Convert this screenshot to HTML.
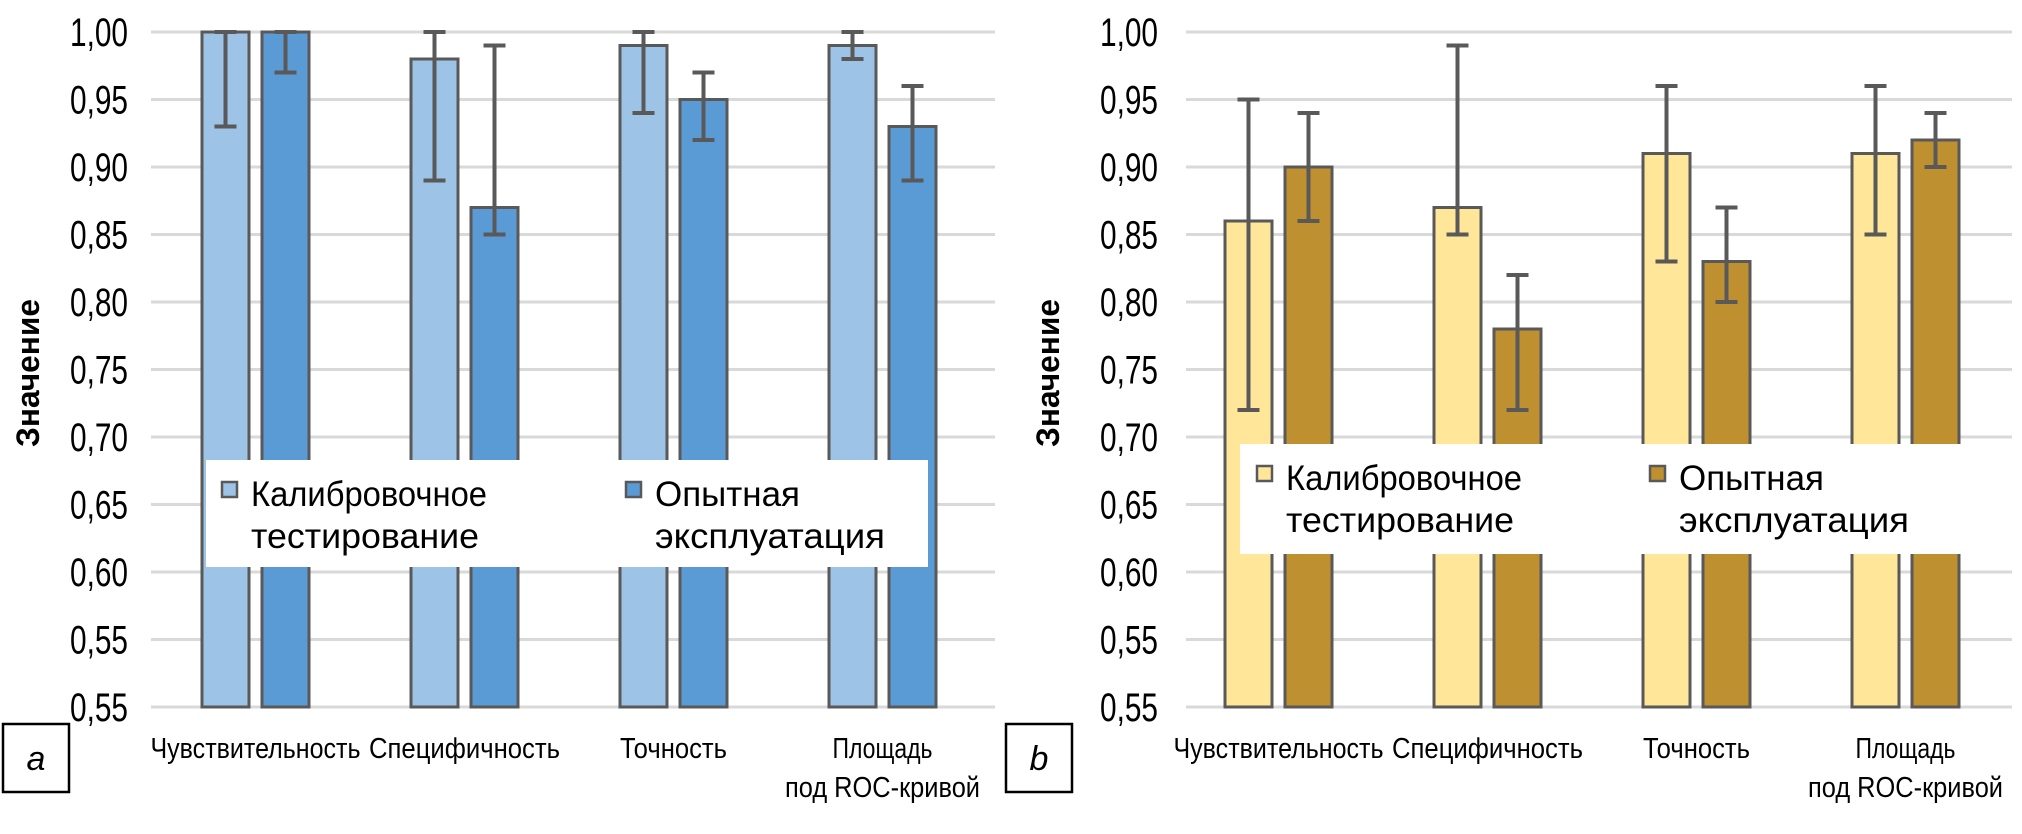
<!DOCTYPE html>
<html><head><meta charset="utf-8"><style>
html,body{margin:0;padding:0;background:#fff;}
svg{display:block;font-family:"Liberation Sans",sans-serif;}
</style></head><body>
<svg id="s" width="2022" height="834" viewBox="0 0 2022 834" xmlns="http://www.w3.org/2000/svg"></svg>
<script>
var s=document.getElementById('s'),h='';
function Y(v){return 32+(1-v)*1350;}
var labels=['1,00','0,95','0,90','0,85','0,80','0,75','0,70','0,65','0,60','0,55','0,55'];
function chart(gx0,gx1,bx,labR,titleX,c1,c2,d,letter,boxX,leg){
  for(var i=0;i<11;i++){var y=32+i*67.5;
    h+='<line x1="'+gx0+'" x2="'+gx1+'" y1="'+y+'" y2="'+y+'" stroke="#d9d9d9" stroke-width="3"/>';
    h+='<text x="'+labR+'" y="'+(y+14)+'" font-size="40" text-anchor="end" textLength="58" lengthAdjust="spacingAndGlyphs">'+labels[i]+'</text>';}
  for(var k=0;k<4;k++){var x=bx+k*209;
    [[x,c1,d[k][0]],[x+60,c2,d[k][1]]].forEach(function(b){
      var t=Y(b[2][0]);
      h+='<rect x="'+b[0]+'" y="'+t+'" width="47" height="'+(707-t)+'" fill="'+b[1]+'" stroke="#595959" stroke-width="3"/>';
      var cx=b[0]+23.5,lo=Y(b[2][1]),hi=Y(b[2][2]);
      h+='<line x1="'+cx+'" x2="'+cx+'" y1="'+hi+'" y2="'+lo+'" stroke="#595959" stroke-width="4"/>';
      h+='<line x1="'+(cx-11)+'" x2="'+(cx+11)+'" y1="'+hi+'" y2="'+hi+'" stroke="#595959" stroke-width="4"/>';
      h+='<line x1="'+(cx-11)+'" x2="'+(cx+11)+'" y1="'+lo+'" y2="'+lo+'" stroke="#595959" stroke-width="4"/>';
    });}
  var cats=[['Чувствительность',210],['Специфичность',191],['Точность',107]];
  for(var k=0;k<3;k++){var c=bx+53.5+k*209;
    h+='<text x="'+c+'" y="758" font-size="29" text-anchor="middle" textLength="'+cats[k][1]+'" lengthAdjust="spacingAndGlyphs">'+cats[k][0]+'</text>';}
  var c=bx+53.5+3*209;
  h+='<text x="'+c+'" y="758" font-size="29" text-anchor="middle" textLength="100" lengthAdjust="spacingAndGlyphs">Площадь</text>';
  h+='<text x="'+c+'" y="797" font-size="29" text-anchor="middle" textLength="195" lengthAdjust="spacingAndGlyphs">под ROC-кривой</text>';
  h+='<text transform="translate('+(titleX)+',373) rotate(-90)" font-size="32" font-weight="bold" text-anchor="middle" textLength="148" lengthAdjust="spacingAndGlyphs">Значение</text>';
  h+='<rect x="'+boxX+'" y="724" width="66" height="68" fill="#fff" stroke="#000" stroke-width="2.5"/>';
  h+='<text x="'+(boxX+33)+'" y="770" font-size="34" font-style="italic" text-anchor="middle">'+letter+'</text>';
  h+='<rect x="'+leg[0]+'" y="'+leg[1]+'" width="'+leg[2]+'" height="'+leg[3]+'" fill="#fff"/>';
  var ly1=leg[1]+46,ly2=leg[1]+88;
  [[leg[4],c1,'Калибровочное','тестирование',236,228],[leg[5],c2,'Опытная','эксплуатация',145,230]].forEach(function(e){
    h+='<rect x="'+e[0]+'" y="'+(ly1-24)+'" width="15" height="15" fill="'+e[1]+'" stroke="#595959" stroke-width="2.5"/>';
    h+='<text x="'+(e[0]+29)+'" y="'+ly1+'" font-size="35" textLength="'+e[4]+'" lengthAdjust="spacingAndGlyphs">'+e[2]+'</text>';
    h+='<text x="'+(e[0]+29)+'" y="'+ly2+'" font-size="35" textLength="'+e[5]+'" lengthAdjust="spacingAndGlyphs">'+e[3]+'</text>';
  });
}
var dL=[[[1,0.93,1],[1,0.97,1]],[[0.98,0.89,1],[0.87,0.85,0.99]],[[0.99,0.94,1],[0.95,0.92,0.97]],[[0.99,0.98,1],[0.93,0.89,0.96]]];
var dR=[[[0.86,0.72,0.95],[0.90,0.86,0.94]],[[0.87,0.85,0.99],[0.78,0.72,0.82]],[[0.91,0.83,0.96],[0.83,0.80,0.87]],[[0.91,0.85,0.96],[0.92,0.90,0.94]]];
chart(151,995,202,128,39,'#9DC3E6','#5B9BD5',dL,'a',3,[206,460,722,107,222,626]);
chart(1186,2012,1225,1158,1059,'#FFE699','#BF9030',dR,'b',1006,[1240,444,772,110,1257,1650]);
s.innerHTML=h;
</script>
</body></html>
